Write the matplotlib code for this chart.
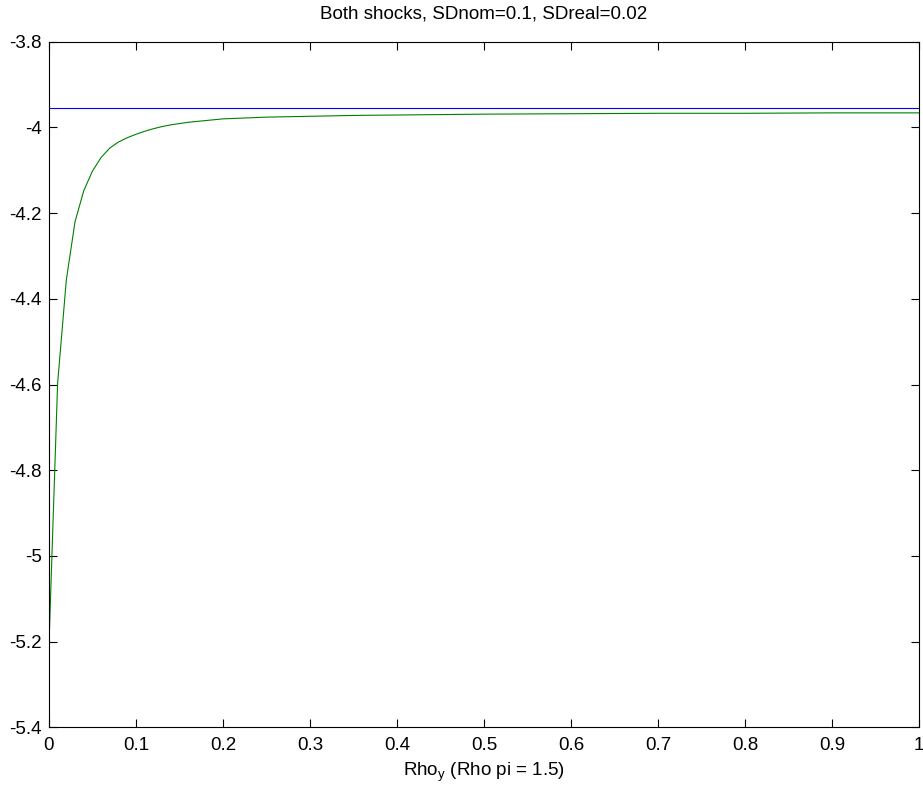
import matplotlib
matplotlib.use('Agg')
import matplotlib.pyplot as plt
from matplotlib.ticker import FuncFormatter

plt.rcParams['font.family'] = ['Liberation Sans', 'DejaVu Sans']
plt.rcParams['axes.unicode_minus'] = False
plt.rcParams['mathtext.fontset'] = 'custom'
plt.rcParams['mathtext.rm'] = 'Liberation Sans'

# values
rho_y = [0, 0.01, 0.02, 0.03, 0.04, 0.05, 0.06, 0.07, 0.08, 0.09, 0.10,
         0.11, 0.12, 0.13, 0.14, 0.15, 0.16, 0.17, 0.18, 0.19, 0.20,
         0.25, 0.30, 0.35, 0.40, 0.45, 0.50, 0.60, 0.70, 0.80, 0.90, 1.00]
green_vals = [-5.212, -4.597, -4.356, -4.220, -4.148, -4.102, -4.070, -4.048,
              -4.034, -4.024, -4.016, -4.009, -4.003, -3.998, -3.994, -3.991,
              -3.988, -3.986, -3.984, -3.982, -3.980,
              -3.976, -3.974, -3.972, -3.971, -3.970, -3.969, -3.968, -3.967,
              -3.967, -3.966, -3.966]
blue_x = [0, 1]
blue_vals = [-3.955, -3.955]

x_ticks = [0, 0.1, 0.2, 0.3, 0.4, 0.5, 0.6, 0.7, 0.8, 0.9, 1]
y_ticks = [-5.4, -5.2, -5.0, -4.8, -4.6, -4.4, -4.2, -4.0, -3.8]

fig = plt.figure(figsize=(9.23, 7.92), dpi=100)
ax = fig.add_axes([0.053, 0.0817, 0.9427, 0.8656])

ax.plot(blue_x, blue_vals, color=(0, 0, 1), linewidth=0.8)
ax.plot(rho_y, green_vals, color=(0, 0.5, 0), linewidth=0.8)

ax.set_xlim(0, 1)
ax.set_ylim(-5.4, -3.8)
ax.set_xticks(x_ticks)
ax.set_yticks(y_ticks)
fmt = FuncFormatter(lambda v, p: '%g' % round(v, 4))
ax.xaxis.set_major_formatter(fmt)
ax.yaxis.set_major_formatter(fmt)
ax.tick_params(direction='in', length=6, width=0.8, top=True, right=True,
               labelsize=13.5)
ax.tick_params(axis='x', pad=7)
ax.tick_params(axis='y', pad=5)
for s in ax.spines.values():
    s.set_linewidth(0.8)

ax.set_title('Both shocks, SDnom=0.1, SDreal=0.02', fontsize=13.5, pad=17)
ax.set_xlabel(r'Rho$_{\mathregular{y}}$ (Rho pi = 1.5)', fontsize=13.5, labelpad=5)

fig.savefig('out.png', dpi=100)
